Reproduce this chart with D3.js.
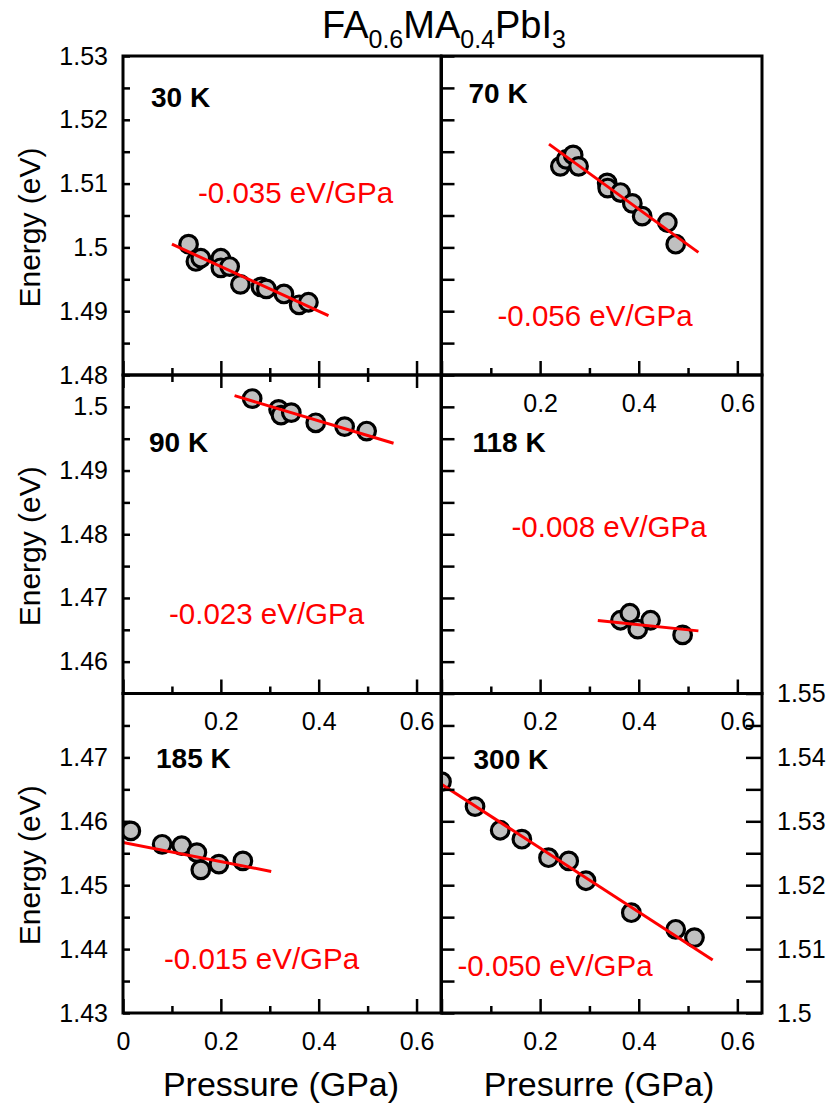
<!DOCTYPE html>
<html>
<head>
<meta charset="utf-8">
<script src="https://cdn.jsdelivr.net/npm/d3@7/dist/d3.min.js"></script>
<style>
  html, body { margin: 0; padding: 0; background: #fff; }
  svg { display: block; font-family: "Liberation Sans", Arial, Helvetica, sans-serif; }
</style>
</head>
<body>
<svg id="chart" width="834" height="1114"></svg>
<script>
// Band-gap energy vs pressure for FA0.6MA0.4PbI3 at six temperatures
const temperatures = ["30 K", "70 K", "90 K", "118 K", "185 K", "300 K"];

const pressure30K = [0.134, 0.149, 0.159, 0.200, 0.200, 0.218, 0.240, 0.282, 0.293, 0.329, 0.360, 0.379];
const energy30K   = [1.5005, 1.4978, 1.4983, 1.4983, 1.4968, 1.4970, 1.4942, 1.4938, 1.4935, 1.4927, 1.4910, 1.4914];

const pressure70K = [0.241, 0.253, 0.267, 0.278, 0.336, 0.337, 0.363, 0.387, 0.407, 0.458, 0.475];
const energy70K   = [1.5127, 1.5138, 1.5145, 1.5127, 1.5101, 1.5093, 1.5086, 1.5069, 1.5049, 1.5039, 1.5005];

const pressure90K = [0.264, 0.318, 0.323, 0.344, 0.394, 0.453, 0.498];
const energy90K   = [1.5013, 1.4996, 1.4987, 1.4991, 1.4975, 1.4969, 1.4962];

const pressure118K = [0.363, 0.382, 0.398, 0.424, 0.489];
const energy118K   = [1.4665, 1.4676, 1.4651, 1.4665, 1.4642];

const pressure185K = [0.016, 0.080, 0.120, 0.151, 0.159, 0.196, 0.245];
const energy185K   = [1.4585, 1.4564, 1.4562, 1.4551, 1.4524, 1.4533, 1.4538];

const pressure300K = [0.000, 0.068, 0.119, 0.163, 0.217, 0.258, 0.293, 0.385, 0.475, 0.513];
const energy300K   = [1.5362, 1.5323, 1.5286, 1.5272, 1.5243, 1.5238, 1.5207, 1.5157, 1.5131, 1.5118];

// Linear fits: slope (eV/GPa), intercept (eV), pressure range covered by the line
const fitSlopes     = [-0.035, -0.056, -0.023, -0.008, -0.015, -0.050];
const fitIntercepts = [1.5040, 1.5284, 1.5070, 1.4690, 1.4567, 1.5358];
const fitStart      = [0.10, 0.218, 0.228, 0.317, 0.0, 0.0];
const fitEnd        = [0.42, 0.521, 0.553, 0.521, 0.303, 0.55];
const slopeLabels   = ["-0.035 eV/GPa", "-0.056 eV/GPa", "-0.023 eV/GPa", "-0.008 eV/GPa", "-0.015 eV/GPa", "-0.050 eV/GPa"];

// Axis domains and tick values
const pressureDomain = [0, 0.65];
const energyDomainTop = [1.48, 1.53];
const energyDomainMid = [1.455, 1.505];
const energyDomainBottom = [1.43, 1.48];
const energyDomainRight = [1.50, 1.55];

const pressureMajorTicks = [0, 0.2, 0.4, 0.6];
const pressureMinorTicks = [0.1, 0.3, 0.5];
const energyTicksTop    = [1.48, 1.485, 1.49, 1.495, 1.50, 1.505, 1.51, 1.515, 1.52, 1.525, 1.53];
const energyTicksMid    = [1.46, 1.465, 1.47, 1.475, 1.48, 1.485, 1.49, 1.495, 1.50];
const energyTicksBottom = [1.43, 1.435, 1.44, 1.445, 1.45, 1.455, 1.46, 1.465, 1.47, 1.475];
const energyTicksRight  = [1.50, 1.505, 1.51, 1.515, 1.52, 1.525, 1.53, 1.535, 1.54, 1.545, 1.55];
const energyLabelsTop    = [1.48, 1.49, 1.50, 1.51, 1.52, 1.53];
const energyLabelsMid    = [1.46, 1.47, 1.48, 1.49, 1.50];
const energyLabelsBottom = [1.43, 1.44, 1.45, 1.46, 1.47];
const energyLabelsRight  = [1.50, 1.51, 1.52, 1.53, 1.54, 1.55];
const pressureLabelsFull = [0, 0.2, 0.4, 0.6];
const pressureLabelsInner = [0.2, 0.4, 0.6];

const pressures = [pressure30K, pressure70K, pressure90K, pressure118K, pressure185K, pressure300K];
const energies  = [energy30K, energy70K, energy90K, energy118K, energy185K, energy300K];

// ---------- layout ----------
const colX = [[123, 441], [441.5, 762]];
const rowY = [[56, 375], [375, 693.5], [693.5, 1013]];
const FONT_TICK = 25;

const layout = [
  { row: 0, col: 0, domain: energyDomainTop,    ticks: energyTicksTop,    labels: energyLabelsTop,    xLabels: null,
    tag: [28, 51],  note: [75, 147] },
  { row: 0, col: 1, domain: energyDomainTop,    ticks: energyTicksTop,    labels: null,               xLabels: pressureLabelsInner,
    tag: [27, 47],  note: [56, 270] },
  { row: 1, col: 0, domain: energyDomainMid,    ticks: energyTicksMid,    labels: energyLabelsMid,    xLabels: pressureLabelsInner,
    tag: [26, 77],  note: [46, 249], topTicks: true },
  { row: 1, col: 1, domain: energyDomainMid,    ticks: energyTicksMid,    labels: null,               xLabels: pressureLabelsInner,
    tag: [31, 77],  note: [70, 162] },
  { row: 2, col: 0, domain: energyDomainBottom, ticks: energyTicksBottom, labels: energyLabelsBottom, xLabels: pressureLabelsFull,
    tag: [33, 74],  note: [41, 275] },
  { row: 2, col: 1, domain: energyDomainRight,  ticks: energyTicksRight,  labels: null,               xLabels: pressureLabelsInner,
    tag: [32, 75],  note: [16, 282], rightAxis: energyLabelsRight }
];

const svg = d3.select("#chart");
const fmt = d => String(+d.toFixed(3));

layout.forEach((L, i) => {
  const [x0, x1] = colX[L.col];
  const [y0, y1] = rowY[L.row];
  const x = d3.scaleLinear().domain(pressureDomain).range([x0, x1]);
  const y = d3.scaleLinear().domain(L.domain).range([y1, y0]);

  const clipId = "clip" + i;
  svg.append("clipPath").attr("id", clipId)
    .append("rect").attr("x", x0).attr("y", y0).attr("width", x1 - x0).attr("height", y1 - y0);

  const g = svg.append("g");

  const fitPts = [fitStart[i], fitEnd[i]].map(p => [p, fitIntercepts[i] + fitSlopes[i] * p]);
  const fitPath = d3.line().x(d => x(d[0])).y(d => y(d[1]))(fitPts);

  // data points
  const pts = pressures[i].map((p, k) => [p, energies[i][k]]);
  g.append("g").attr("clip-path", `url(#${clipId})`)
    .selectAll("circle").data(pts).join("circle")
    .attr("cx", d => x(d[0])).attr("cy", d => y(d[1])).attr("r", 8.8)
    .attr("fill", "#c0c0c0").attr("stroke", "#000").attr("stroke-width", 3.2);

  // linear fit, drawn over the markers
  g.append("path")
    .attr("clip-path", `url(#${clipId})`)
    .attr("d", fitPath)
    .attr("fill", "none").attr("stroke", "#ff0000").attr("stroke-width", 3);

  const styleAxis = sel => {
    sel.select(".domain").remove();
    sel.selectAll(".tick line").attr("stroke", "#000").attr("stroke-width", 2.5);
    sel.selectAll(".tick text").attr("font-size", FONT_TICK).attr("fill", "#000")
      .attr("font-family", "'Liberation Sans', Arial, sans-serif");
  };

  // x ticks on the bottom edge, pointing inward
  g.append("g").attr("transform", `translate(0,${y1})`)
    .call(d3.axisBottom(x).tickValues(pressureMajorTicks).tickSize(-14).tickFormat(""))
    .call(styleAxis);
  g.append("g").attr("transform", `translate(0,${y1})`)
    .call(d3.axisBottom(x).tickValues(pressureMinorTicks).tickSize(-7).tickFormat(""))
    .call(styleAxis);
  if (L.topTicks) {
    g.append("g").attr("transform", `translate(0,${y0})`)
      .call(d3.axisTop(x).tickValues(pressureMajorTicks).tickSize(-13).tickFormat(""))
      .call(styleAxis);
    g.append("g").attr("transform", `translate(0,${y0})`)
      .call(d3.axisTop(x).tickValues(pressureMinorTicks).tickSize(-7).tickFormat(""))
      .call(styleAxis);
  }
  if (L.xLabels) {
    g.append("g").attr("transform", `translate(0,${y1})`)
      .call(d3.axisBottom(x).tickValues(L.xLabels).tickSize(0).tickPadding(19).tickFormat(fmt))
      .call(styleAxis);
  }

  // y ticks on the left edge
  if (L.col === 0) {
    g.append("g").attr("transform", `translate(${x0},0)`)
      .call(d3.axisLeft(y).tickValues(L.ticks).tickSize(-7).tickFormat(""))
      .call(styleAxis);
    g.append("g").attr("transform", `translate(${x0},0)`)
      .call(d3.axisLeft(y).tickValues(L.labels).tickSize(0).tickPadding(15).tickFormat(fmt))
      .call(styleAxis);
  } else {
    g.append("g").attr("transform", `translate(${x0},0)`)
      .call(d3.axisRight(y).tickValues(L.ticks).tickSize(13).tickFormat(""))
      .call(styleAxis);
  }
  if (L.rightAxis) {
    g.append("g").attr("transform", `translate(${x1},0)`)
      .call(d3.axisRight(y).tickValues(L.ticks).tickSize(-16).tickFormat(""))
      .call(styleAxis);
    g.append("g").attr("transform", `translate(${x1},0)`)
      .call(d3.axisRight(y).tickValues(L.rightAxis).tickSize(0).tickPadding(15).tickFormat(fmt))
      .call(styleAxis);
  }

  // frame
  g.append("rect").attr("x", x0).attr("y", y0).attr("width", x1 - x0).attr("height", y1 - y0)
    .attr("fill", "none").attr("stroke", "#000").attr("stroke-width", 3);

  // temperature tag and slope annotation
  g.append("text").attr("x", x0 + L.tag[0]).attr("y", y0 + L.tag[1])
    .attr("font-size", 28).attr("font-weight", "bold").attr("fill", "#000")
    .text(temperatures[i]);
  g.append("text").attr("x", x0 + L.note[0]).attr("y", y0 + L.note[1])
    .attr("font-size", 29.5).attr("fill", "#ff0000")
    .text(slopeLabels[i]);
});

// y-axis titles, one per row
rowY.forEach(([a, b]) => {
  svg.append("text")
    .attr("transform", `translate(40,${(a + b) / 2 + 12}) rotate(-90)`)
    .attr("text-anchor", "middle").attr("font-size", 30).attr("fill", "#000")
    .text("Energy (eV)");
});

// x-axis titles
svg.append("text").attr("x", 281).attr("y", 1096).attr("text-anchor", "middle")
  .attr("font-size", 34).attr("fill", "#000").text("Pressure (GPa)");
svg.append("text").attr("x", 599).attr("y", 1096).attr("text-anchor", "middle")
  .attr("font-size", 34).attr("fill", "#000").text("Presurre (GPa)");

// title with subscripts
const title = svg.append("text").attr("x", 444).attr("y", 38).attr("text-anchor", "middle")
  .attr("font-size", 38).attr("fill", "#000");
const titleParts = [["FA", 0], ["0.6", 10], ["MA", -10], ["0.4", 10], ["PbI", -10], ["3", 10]];
titleParts.forEach(([t, shift], k) => {
  title.append("tspan")
    .attr("font-size", k % 2 ? 25 : 38)
    .attr("dy", shift)
    .text(t);
});
</script>
</body>
</html>
